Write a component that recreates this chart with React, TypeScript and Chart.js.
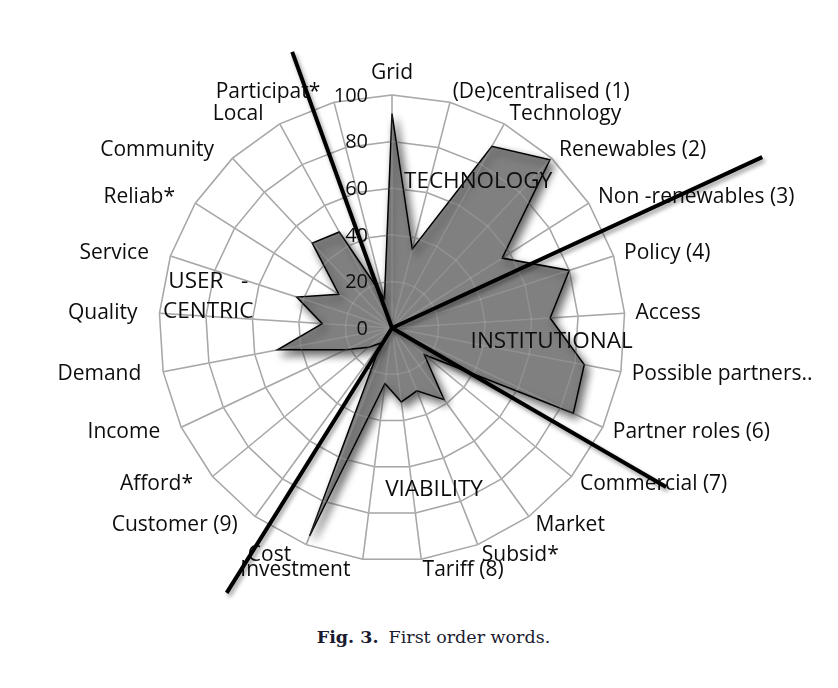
import React, { useEffect, useRef } from "react";
import { Chart, registerables } from "chart.js";

Chart.register(...registerables);

// ---- data ----
const categories = [
  "Grid",
  "(De)centralised (1)",
  "Technology",
  "Renewables (2)",
  "Non -renewables (3)",
  "Policy (4)",
  "Access",
  "Possible partners..",
  "Partner roles (6)",
  "Commercial (7)",
  "Market",
  "Subsid*",
  "Tariff (8)",
  "Investment",
  "Cost",
  "Customer (9)",
  "Afford*",
  "Income",
  "Demand",
  "Quality",
  "Service",
  "Reliab*",
  "Community",
  "Local",
  "Participat*",
];
const values = [92, 35, 89, 99, 56, 80, 68, 84, 86, 18, 38, 29, 32, 24, 96, 8, 13, 22, 50, 30, 43, 27, 50, 47, 13];
const tickValues = [0, 20, 40, 60, 80, 100];

// theme labels (placed at fractional category index / value on the radial scale)
const themeNames = [["TECHNOLOGY"], ["INSTITUTIONAL"], ["VIABILITY"], ["USER   -", "CENTRIC"]];
const themeIndex = [2.12, 6.6, 11.49, 19.42];
const themeValue = [72.8, 68.8, 71.8, 80];

// theme divider lines (fractional category index and length in scale units)
const dividerIndex = [23.62, 4.53, 8.34, 14.72];
const dividerValue = [126, 175, 136, 134];

const FONT = '"Open Sans", "DejaVu Sans", sans-serif';

const overlayPlugin = {
  id: "overlay",
  beforeDatasetsDraw(chart: any) {
    const ctx = chart.ctx;
    ctx.save();
    ctx.shadowColor = "rgba(0,0,0,0.6)";
    ctx.shadowBlur = 9;
    ctx.shadowOffsetX = 4;
    ctx.shadowOffsetY = 5;
  },
  afterDatasetsDraw(chart: any) {
    const ctx = chart.ctx;
    ctx.restore();
    const r = chart.scales.r;
    const R = r.drawingArea;
    const n = categories.length;
    ctx.save();

    // faint grid showing through the filled area
    ctx.strokeStyle = "rgba(255,255,255,0.13)";
    ctx.lineWidth = 1.5;
    for (let i = 0; i < n; i++) {
      const p = r.getPointPosition(i, R);
      ctx.beginPath();
      ctx.moveTo(r.xCenter, r.yCenter);
      ctx.lineTo(p.x, p.y);
      ctx.stroke();
    }
    tickValues.slice(1).forEach((v) => {
      ctx.beginPath();
      for (let i = 0; i <= n; i++) {
        const p = r.getPointPositionForValue(i % n, v);
        if (i === 0) ctx.moveTo(p.x, p.y);
        else ctx.lineTo(p.x, p.y);
      }
      ctx.stroke();
    });

    ctx.fillStyle = "#0d0d0d";

    // radial tick labels, left of the vertical axis
    ctx.font = `20px ${FONT}`;
    ctx.textAlign = "right";
    ctx.textBaseline = "middle";
    tickValues.forEach((v) => {
      const p = r.getPointPositionForValue(0, v);
      ctx.fillText(String(v), r.xCenter - 24, p.y + 1);
    });

    // category labels
    ctx.font = `21px ${FONT}`;
    categories.forEach((label, i) => {
      const deg = Math.round((r.getIndexAngle(i) * 180) / Math.PI) % 360;
      if (deg === 0) {
        const p = r.getPointPosition(i, R + 16);
        ctx.textAlign = "center";
        ctx.textBaseline = "alphabetic";
        ctx.fillText(label, p.x, p.y);
        return;
      }
      const p = r.getPointPosition(i, R + 11);
      ctx.textBaseline = "middle";
      if (deg < 180) {
        ctx.textAlign = "left";
        ctx.fillText(label, p.x, p.y);
      } else {
        ctx.textAlign = "right";
        ctx.fillText(label, p.x - 11, p.y);
      }
    });

    // theme labels
    ctx.font = `22.5px ${FONT}`;
    ctx.textAlign = "center";
    ctx.textBaseline = "middle";
    themeNames.forEach((lines, k) => {
      const p = r.getPointPositionForValue(themeIndex[k], themeValue[k]);
      const lh = 30;
      lines.forEach((t, j) => ctx.fillText(t, p.x, p.y + (j - (lines.length - 1) / 2) * lh));
    });

    // divider lines
    ctx.shadowColor = "rgba(0,0,0,0.4)";
    ctx.shadowBlur = 4;
    ctx.shadowOffsetX = 2;
    ctx.shadowOffsetY = 3;
    ctx.strokeStyle = "#000";
    ctx.lineWidth = 4;
    dividerIndex.forEach((idx, k) => {
      const p = r.getPointPositionForValue(idx, dividerValue[k]);
      ctx.beginPath();
      ctx.moveTo(r.xCenter, r.yCenter);
      ctx.lineTo(p.x, p.y);
      ctx.stroke();
    });
    ctx.restore();
  },
};

export default function App() {
  const canvasRef = useRef<HTMLCanvasElement | null>(null);

  useEffect(() => {
    if (!canvasRef.current) return;
    const chart = new Chart(canvasRef.current, {
      type: "radar",
      data: {
        labels: categories,
        datasets: [
          {
            data: values,
            backgroundColor: "#808080",
            borderColor: "#000000",
            borderWidth: 1.5,
            pointRadius: 0,
            pointHoverRadius: 0,
            tension: 0,
          },
        ],
      },
      options: {
        responsive: false,
        animation: false,
        layout: { padding: { left: 151, right: 205, top: 87, bottom: 57 } },
        plugins: { legend: { display: false }, tooltip: { enabled: false } },
        scales: {
          r: {
            min: 0,
            max: 100,
            startAngle: 0,
            ticks: { display: false, stepSize: 20 },
            pointLabels: { display: false },
            grid: { color: "#9a9a9a", lineWidth: 1.5 },
            angleLines: { color: "#9a9a9a", lineWidth: 1.5 },
          },
        },
      },
      plugins: [overlayPlugin],
    });
    return () => chart.destroy();
  }, []);

  return (
    <div style={{ position: "relative", width: 822, height: 672 }}>
      <canvas ref={canvasRef} width={822} height={610} style={{ display: "block" }} />
      <div
        style={{
          position: "absolute",
          top: 618,
          left: 0,
          width: 822,
          boxSizing: "border-box",
          paddingLeft: 29,
          textAlign: "center",
          lineHeight: "22px",
          fontFamily: '"DejaVu Serif", serif',
          fontSize: 17.5,
          color: "#1b1b2f",
        }}
      >
        <b>Fig. 3.</b>
        <span style={{ marginLeft: 10 }}>First order words.</span>
      </div>
    </div>
  );
}
